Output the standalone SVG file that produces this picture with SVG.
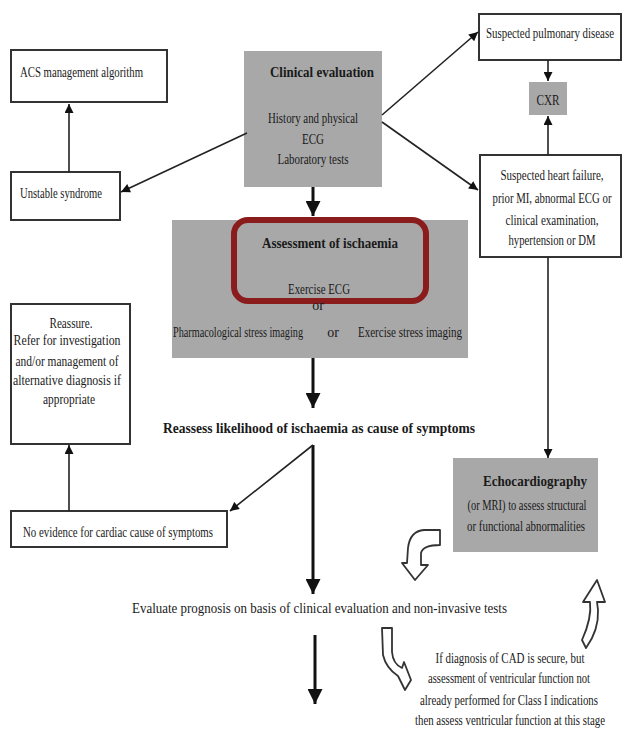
<svg xmlns="http://www.w3.org/2000/svg" width="624" height="733" viewBox="0 0 624 733">
<style>
text{font-family:"Liberation Serif","Times New Roman",serif;fill:#1a1a1a;font-size:14px}
.b{font-weight:bold}
.c{text-anchor:middle}
.wbox{fill:#fff;stroke:#333;stroke-width:2}
.gbox{fill:#a8a8a8;stroke:none}
.ln{stroke:#222;stroke-width:1.6;fill:none}
.thk{stroke:#111;stroke-width:3;fill:none}
.hol{fill:#fff;stroke:#333;stroke-width:1.8;stroke-linejoin:round}
</style>
<defs>
<marker id="ah" viewBox="0 0 10 10" refX="10" refY="5" markerWidth="10" markerHeight="9" markerUnits="userSpaceOnUse" orient="auto"><path d="M0,0 L10,5 L0,10 Z" fill="#111"/></marker>
<marker id="ahb" viewBox="0 0 10 10" refX="10" refY="5" markerWidth="18" markerHeight="15" markerUnits="userSpaceOnUse" orient="auto"><path d="M0,0 L10,5 L0,10 Z" fill="#111"/></marker>
</defs>
<rect width="624" height="733" fill="#fff"/>

<g id="acs"><rect class="wbox" x="11" y="50" width="156" height="52"/><text x="20" y="77" textLength="123" lengthAdjust="spacingAndGlyphs">ACS management algorithm</text></g>
<g id="unstable"><rect class="wbox" x="11" y="172" width="109" height="48"/><text x="20" y="198" textLength="82" lengthAdjust="spacingAndGlyphs">Unstable syndrome</text></g>
<g id="clinical"><rect class="gbox" x="244" y="51" width="138" height="136"/>
<text class="b" x="270" y="77" font-size="15" textLength="104" lengthAdjust="spacingAndGlyphs">Clinical evaluation</text>
<text class="c" x="313" y="123" textLength="90" lengthAdjust="spacingAndGlyphs">History and physical</text>
<text class="c" x="313" y="144" textLength="22" lengthAdjust="spacingAndGlyphs">ECG</text>
<text class="c" x="313" y="164" textLength="71" lengthAdjust="spacingAndGlyphs">Laboratory tests</text></g>
<g id="pulmonary"><rect class="wbox" x="479" y="14" width="142" height="46"/><text x="486" y="38" textLength="128" lengthAdjust="spacingAndGlyphs">Suspected pulmonary disease</text></g>
<g id="cxr"><rect class="gbox" x="529" y="82" width="38" height="33"/><text class="c" x="548" y="105" textLength="23" lengthAdjust="spacingAndGlyphs">CXR</text></g>
<g id="heart"><rect class="wbox" x="480" y="155" width="141" height="102"/>
<text class="c" x="552" y="180" textLength="103" lengthAdjust="spacingAndGlyphs">Suspected heart failure,</text>
<text class="c" x="552" y="203" textLength="119" lengthAdjust="spacingAndGlyphs">prior MI, abnormal ECG or</text>
<text class="c" x="552" y="225" textLength="93" lengthAdjust="spacingAndGlyphs">clinical examination,</text>
<text class="c" x="552" y="245" textLength="87" lengthAdjust="spacingAndGlyphs">hypertension or DM</text></g>
<g id="assessment"><rect class="gbox" x="172" y="220" width="296" height="138"/>
<rect x="234" y="220" width="192" height="81" rx="14" fill="none" stroke="#8a1c1c" stroke-width="6"/>
<text class="b c" x="330" y="248" textLength="136" lengthAdjust="spacingAndGlyphs">Assessment of ischaemia</text>
<text class="c" x="319" y="294" textLength="62" lengthAdjust="spacingAndGlyphs">Exercise ECG</text>
<text class="c" x="318" y="310" font-size="12">or</text>
<text x="173" y="337" textLength="130" lengthAdjust="spacingAndGlyphs">Pharmacological stress imaging</text>
<text class="c" x="333" y="337">or</text>
<text x="358" y="337" textLength="104" lengthAdjust="spacingAndGlyphs">Exercise stress imaging</text></g>
<g id="reassess"><text class="b c" x="319" y="433" font-size="15" textLength="312" lengthAdjust="spacingAndGlyphs">Reassess likelihood of ischaemia as cause of symptoms</text></g>
<g id="reassure"><rect class="wbox" x="11" y="304" width="119" height="140"/>
<text class="c" x="71" y="328" textLength="43" lengthAdjust="spacingAndGlyphs">Reassure.</text>
<text class="c" x="67" y="345" textLength="107" lengthAdjust="spacingAndGlyphs">Refer for investigation</text>
<text class="c" x="67" y="366" textLength="103" lengthAdjust="spacingAndGlyphs">and/or management of</text>
<text class="c" x="67" y="385" textLength="108" lengthAdjust="spacingAndGlyphs">alternative diagnosis if</text>
<text class="c" x="69" y="404" textLength="52" lengthAdjust="spacingAndGlyphs">appropriate</text></g>
<g id="noevidence"><rect class="wbox" x="11" y="511" width="216" height="36"/><text x="23" y="537" textLength="190" lengthAdjust="spacingAndGlyphs">No evidence for cardiac cause of symptoms</text></g>
<g id="echo"><rect class="gbox" x="453" y="458" width="145" height="94"/>
<text class="b c" x="535" y="486" font-size="16" textLength="104" lengthAdjust="spacingAndGlyphs">Echocardiography</text>
<text class="c" x="527" y="510" textLength="119" lengthAdjust="spacingAndGlyphs">(or MRI) to assess structural</text>
<text class="c" x="526" y="531" textLength="118" lengthAdjust="spacingAndGlyphs">or functional abnormalities</text></g>
<g id="prognosis"><text x="132" y="613" font-size="15" textLength="375" lengthAdjust="spacingAndGlyphs">Evaluate prognosis on basis of clinical evaluation and non-invasive tests</text></g>
<g id="cad">
<text class="c" x="510" y="663" font-size="13" textLength="149" lengthAdjust="spacingAndGlyphs">If diagnosis of CAD is secure, but</text>
<text class="c" x="509" y="683" font-size="13" textLength="162" lengthAdjust="spacingAndGlyphs">assessment of ventricular function not</text>
<text class="c" x="509" y="705" font-size="13" textLength="178" lengthAdjust="spacingAndGlyphs">already performed for Class I indications</text>
<text class="c" x="510" y="725" font-size="13" textLength="190" lengthAdjust="spacingAndGlyphs">then assess ventricular function at this stage</text></g>

<g id="connectors">
<line class="ln" x1="69" y1="172" x2="69" y2="104" marker-end="url(#ah)"/>
<line class="ln" x1="247" y1="133" x2="121" y2="192" marker-end="url(#ah)"/>
<line class="ln" x1="382" y1="115" x2="478" y2="32" marker-end="url(#ah)"/>
<line class="ln" x1="382" y1="122" x2="478" y2="190" marker-end="url(#ah)"/>
<line class="ln" x1="548" y1="60" x2="548" y2="81" marker-end="url(#ah)"/>
<line class="ln" x1="548" y1="155" x2="548" y2="116" marker-end="url(#ah)"/>
<line class="ln" x1="548" y1="257" x2="548" y2="458" marker-end="url(#ah)"/>
<line class="thk" x1="313" y1="187" x2="313" y2="216" marker-end="url(#ahb)"/>
<line class="thk" x1="313" y1="358" x2="313" y2="408" marker-end="url(#ahb)"/>
<line class="thk" x1="313" y1="445" x2="313" y2="594" marker-end="url(#ahb)"/>
<line class="ln" x1="313" y1="445" x2="230" y2="511" marker-end="url(#ah)"/>
<line class="ln" x1="69" y1="511" x2="69" y2="445" marker-end="url(#ah)"/>
<line class="thk" x1="315" y1="635" x2="315" y2="704" marker-end="url(#ahb)"/>
<path class="hol" d="M440,530 L424,530 Q410,531 408,548 L407,563 L402,563 L415,580 L428,565 L421,565 L421,553 Q423,545 440,545 Z"/>
<path class="hol" d="M586,648 Q599,630 598,610 L597,602 L605,602 L597,580 L583,602 L590,602 Q592,618 582,640 Z"/>
<path class="hol" d="M382,628 L392,628 L392,652 Q393,664 402,668 L404,662 L411,680 L405,690 L398,676 Q386,668 383,655 Z"/>
</g>
</svg>
